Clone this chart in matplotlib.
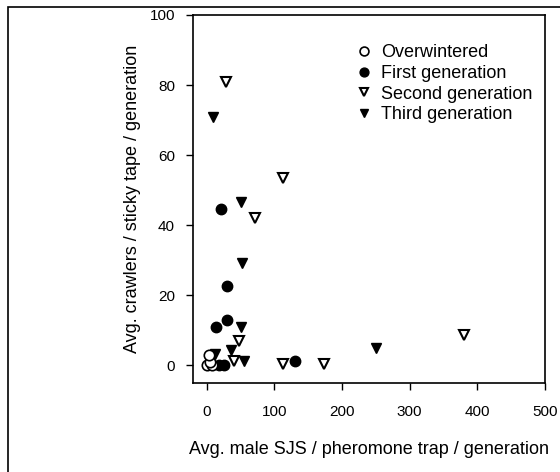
import matplotlib
matplotlib.use('Agg')
import matplotlib.pyplot as plt
from matplotlib.patches import Rectangle

plt.rcParams['font.family'] = ['Liberation Sans', 'DejaVu Sans']

# values
ow_x = [0, 8, 5, 3]
ow_y = [0, 0, 1, 3]

g1_x = [22, 30, 30, 14, 19, 26, 130]
g1_y = [44.6, 22.6, 12.9, 11.1, 0, 0, 1.2]

g2_x = [29, 113, 71, 48, 41, 113, 174, 381]
g2_y = [81, 53.4, 42, 7.1, 1.2, 0.5, 0.4, 8.6]

g3_x = [9, 51, 52, 51, 36, 55, 12, 251]
g3_y = [70.8, 46.6, 29.3, 11, 4.3, 1.4, 3.4, 5]

fig = plt.figure(figsize=(5.6, 4.72), dpi=100)
# axes box: x 193..545 px, y 15..383 px
ax = fig.add_axes([193 / 560, 1 - 383 / 472, 352 / 560, 368 / 472])

ms = 7.5
ax.plot(g1_x, g1_y, 'o', mfc='black', mec='black', ms=ms, label='First generation', zorder=3)
ax.plot(ow_x, ow_y, 'o', mfc='white', mec='black', mew=1.2, ms=ms, label='Overwintered', zorder=4)
ax.plot(g2_x, g2_y, 'v', mfc='white', mec='black', mew=1.5, ms=ms, label='Second generation', zorder=3)
ax.plot(g3_x, g3_y, 'v', mfc='black', mec='black', ms=ms, label='Third generation', zorder=3)

ax.set_xlim(-20, 500)
ax.set_ylim(-5, 100)
ax.set_xticks([0, 100, 200, 300, 400, 500])
ax.set_yticks([0, 20, 40, 60, 80, 100])
ax.tick_params(direction='out', length=5, width=1, labelsize=11)
ax.tick_params(axis='x', pad=11)
ax.tick_params(axis='y', pad=8)
for s in ax.spines.values():
    s.set_linewidth(1.2)

ax.set_xlabel('Avg. male SJS / pheromone trap / generation', fontsize=13, labelpad=16)
ax.set_ylabel('Avg. crawlers / sticky tape / generation', fontsize=13, labelpad=6)

h, l = ax.get_legend_handles_labels()
order = [1, 0, 2, 3]
ax.legend([h[i] for i in order], [l[i] for i in order], loc='upper left',
          bbox_to_anchor=(0.44, 0.94), frameon=False, fontsize=13,
          handletextpad=0.45, labelspacing=0.2, handlelength=1.0,
          borderaxespad=0, markerscale=0.85)

fig.patches.append(Rectangle((8 / 560, -0.1), 1.2, 1 - 7 / 472 + 0.1,
                             transform=fig.transFigure, fill=False,
                             edgecolor='black', linewidth=1.2))

fig.savefig('out.png', dpi=100)
